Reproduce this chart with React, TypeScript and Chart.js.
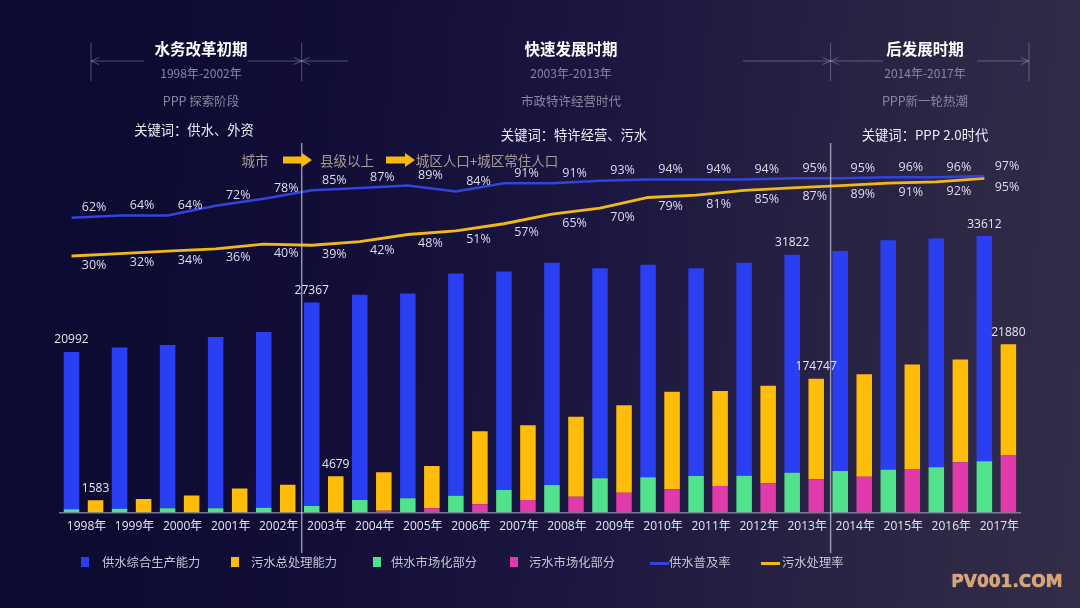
import React, { useEffect, useRef } from 'react';
import { Chart, registerables } from 'chart.js';

Chart.register(...registerables);

// ---------- data ----------
const years = ['1998年', '1999年', '2000年', '2001年', '2002年', '2003年', '2004年', '2005年', '2006年', '2007年',
  '2008年', '2009年', '2010年', '2011年', '2012年', '2013年', '2014年', '2015年', '2016年', '2017年'];

// 供水综合生产能力
const supplyCapacity = [20992, 21590, 21900, 22950, 23600, 27470, 28480, 28640, 31260, 31520,
  32640, 31930, 32390, 31930, 32640, 33710, 34200, 35580, 35830, 36140];
// 供水市场化部分
const supplyMarket = [430, 510, 560, 560, 640, 860, 1650, 1870, 2210, 2950,
  3610, 4480, 4610, 4780, 4820, 5210, 5440, 5610, 5920, 6700];
// 污水总处理能力
const sewageCapacity = [1620, 1780, 2240, 3140, 3650, 4760, 5270, 6090, 10640, 11400,
  12520, 14040, 15810, 15900, 16570, 17490, 18090, 19360, 20020, 22000];
// 污水市场化部分
const sewageMarket = [0, 0, 0, 0, 0, 0, 250, 560, 1080, 1650,
  2080, 2600, 3050, 3480, 3830, 4350, 4690, 5700, 6570, 7530];
// 供水普及率 (%)
const coverageRate = [62, 64, 64, 72, 78, 85, 87, 89, 84, 91, 91, 93, 94, 94, 94, 95, 95, 96, 96, 97];
// 污水处理率 (%)
const treatmentRate = [30, 32, 34, 36, 40, 39, 42, 48, 51, 57, 65, 70, 79, 81, 85, 87, 89, 91, 92, 95];

// printed value annotations [year index, text]
const supplyValueLabels: [number, string][] = [[0, '20992'], [5, '27367'], [15, '31822'], [19, '33612']];
const sewageValueLabels: [number, string][] = [[0, '1583'], [5, '4679'], [15, '174747'], [19, '21880']];

const seriesNames = ['供水综合生产能力', '污水总处理能力', '供水市场化部分', '污水市场化部分', '供水普及率', '污水处理率'];

// ---------- styles ----------
const C_SUPPLY = '#2b3ff2';
const C_SEWAGE = '#ffbd0a';
const C_SUPPLY_MKT = '#50e38b';
const C_SEWAGE_MKT = '#e03aab';
const C_COVER = '#3243de';
const C_TREAT = '#f2b817';
const FONT = '"Open Sans", "Noto Sans CJK SC", sans-serif';
const CJK = '"Noto Sans CJK SC", "Noto Sans", sans-serif';

const valueLabelPlugin = {
  id: 'valueLabels',
  afterDatasetsDraw(chart: any) {
    const ctx = chart.ctx;
    ctx.save();
    ctx.textAlign = 'center';
    ctx.textBaseline = 'middle';
    ctx.fillStyle = '#e6e6f2';
    ctx.font = `12px ${FONT}`;
    const blue = chart.getDatasetMeta(1);
    const yellow = chart.getDatasetMeta(3);
    supplyValueLabels.forEach(([i, t]) => {
      const el = blue.data[i];
      ctx.fillText(t, el.x, el.y - 12);
    });
    sewageValueLabels.forEach(([i, t]) => {
      const el = yellow.data[i];
      ctx.fillText(t, el.x, el.y - 12);
    });
    const xl = chart.scales.xl;
    const y2 = chart.scales.y2;
    ctx.font = `12.5px ${FONT}`;
    ctx.fillStyle = '#dcdcec';
    coverageRate.forEach((v, i) => {
      ctx.fillText(v + '%', xl.getPixelForValue(i + 0.22), y2.getPixelForValue(v) - 10);
    });
    treatmentRate.forEach((v, i) => {
      ctx.fillText(v + '%', xl.getPixelForValue(i + 0.22), y2.getPixelForValue(v) + 9);
    });
    ctx.restore();
  },
};

const Txt = ({ x, y, size, color, weight, children }: any) => (
  <div style={{
    position: 'absolute', left: x, top: y, transform: 'translate(-50%, -50%)', fontSize: size,
    color, fontWeight: weight || 400, whiteSpace: 'nowrap', fontFamily: CJK, lineHeight: 1,
  }}>{children}</div>
);

const sections = [
  { cx: 201, title: '水务改革初期', range: '1998年-2002年', phase: 'PPP 探索阶段', kw: '关键词：供水、外资', kwx: 194, kwy: 130 },
  { cx: 571, title: '快速发展时期', range: '2003年-2013年', phase: '市政特许经营时代', kw: '关键词：特许经营、污水', kwx: 574, kwy: 135 },
  { cx: 925, title: '后发展时期', range: '2014年-2017年', phase: 'PPP新一轮热潮', kw: '关键词：PPP 2.0时代', kwx: 925, kwy: 135 },
];

const legendItems = [
  { left: 81, kind: 'rect', color: C_SUPPLY, textLeft: 102 },
  { left: 231, kind: 'rect', color: C_SEWAGE, textLeft: 251 },
  { left: 373, kind: 'rect', color: C_SUPPLY_MKT, textLeft: 391 },
  { left: 510, kind: 'rect', color: C_SEWAGE_MKT, textLeft: 529 },
  { left: 650, kind: 'line', color: C_COVER, textLeft: 669 },
  { left: 761, kind: 'line', color: C_TREAT, textLeft: 782 },
];

function Arrow({ x }: { x: number }) {
  const y = 160;
  const pts = `${x},${y - 3.5} ${x + 19},${y - 3.5} ${x + 19},${y - 7} ${x + 29},${y} ${x + 19},${y + 7} ${x + 19},${y + 3.5} ${x},${y + 3.5}`;
  return <polygon points={pts} fill="#f7b90a" />;
}

function Overlay() {
  const dim = 'rgba(165,165,200,0.45)';
  const div = 'rgba(200,200,225,0.7)';
  const hy = 61;
  const head = (tx: number, dir: number) => (
    <g key={`${tx}-${dir}`}>
      <line x1={tx} y1={hy} x2={tx + dir * 8} y2={hy - 3.5} stroke={dim} strokeWidth={1} />
      <line x1={tx} y1={hy} x2={tx + dir * 8} y2={hy + 3.5} stroke={dim} strokeWidth={1} />
    </g>
  );
  return (
    <svg width={1080} height={608} style={{ position: 'absolute', left: 0, top: 0, pointerEvents: 'none' }}>
      <line x1={91} y1={43} x2={91} y2={81} stroke={dim} />
      <line x1={1029} y1={43} x2={1029} y2={81} stroke={dim} />
      <line x1={301.7} y1={43} x2={301.7} y2={81} stroke={dim} />
      <line x1={830.6} y1={43} x2={830.6} y2={81} stroke={dim} />
      <line x1={301.7} y1={143} x2={301.7} y2={553} stroke={div} strokeWidth={1.5} />
      <line x1={830.6} y1={143} x2={830.6} y2={553} stroke={div} strokeWidth={1.5} />
      {[[91, 144], [248, 302], [302, 348], [743, 830.6], [830.6, 883], [977, 1029]].map(([a, b]) => (
        <line key={a} x1={a} y1={hy} x2={b} y2={hy} stroke={dim} strokeWidth={1} />
      ))}
      {head(91, 1)}
      {head(301.7, -1)}
      {head(301.7, 1)}
      {head(830.6, -1)}
      {head(830.6, 1)}
      {head(1029, -1)}
      <Arrow x={283} />
      <Arrow x={386} />
    </svg>
  );
}

export default function App() {
  const canvasRef = useRef<HTMLCanvasElement | null>(null);

  useEffect(() => {
    if (!canvasRef.current) return;
    const supplyRest = supplyCapacity.map((v, i) => v - supplyMarket[i]);
    const sewageRest = sewageCapacity.map((v, i) => v - sewageMarket[i]);
    const left = (arr: number[]) => arr.map((v, i) => ({ x: i - 0.25, y: v }));
    const right = (arr: number[]) => arr.map((v, i) => ({ x: i + 0.25, y: v }));
    const barCommon = {
      xAxisID: 'xl', yAxisID: 'y', grouped: false, categoryPercentage: 1, barPercentage: 0.646, order: 1, borderWidth: 0,
    };
    const chart = new Chart(canvasRef.current, {
      type: 'bar',
      data: {
        labels: years,
        datasets: [
          { ...barCommon, label: seriesNames[2], data: left(supplyMarket), backgroundColor: C_SUPPLY_MKT, stack: 's' },
          { ...barCommon, label: seriesNames[0], data: left(supplyRest), backgroundColor: C_SUPPLY, stack: 's' },
          { ...barCommon, label: seriesNames[3], data: right(sewageMarket), backgroundColor: C_SEWAGE_MKT, stack: 'w' },
          { ...barCommon, label: seriesNames[1], data: right(sewageRest), backgroundColor: C_SEWAGE, stack: 'w' },
          {
            type: 'line', label: seriesNames[4], xAxisID: 'xl', yAxisID: 'y2', order: 0,
            data: left(coverageRate),
            borderColor: C_COVER, borderWidth: 2.5, pointRadius: 0, tension: 0, fill: false,
          },
          {
            type: 'line', label: seriesNames[5], xAxisID: 'xl', yAxisID: 'y2', order: 0,
            data: left(treatmentRate),
            borderColor: C_TREAT, borderWidth: 2.8, pointRadius: 0, tension: 0, fill: false,
          },
        ] as any,
      },
      options: {
        animation: false,
        responsive: true,
        maintainAspectRatio: false,
        layout: { padding: { left: 59.5, right: 59.6, top: 150, bottom: 0 } },
        plugins: { legend: { display: false }, tooltip: { enabled: false } },
        scales: {
          x: {
            type: 'category', position: 'bottom', offset: true,
            grid: { display: false, drawTicks: false },
            border: { display: true, color: 'rgba(150,150,178,0.75)', width: 1.5 },
            ticks: {
              color: '#e6e6f0', font: { size: 12, family: FONT }, padding: 7, labelOffset: 3,
              maxRotation: 0, autoSkip: false,
            },
            afterFit: (s: any) => { s.height = 95.4; },
          },
          xl: {
            type: 'linear', axis: 'x', position: 'bottom', display: false, offset: false,
            min: -0.5, max: 19.5, grid: { offset: false },
          },
          y: { stacked: true, display: false, min: 0, max: 47390 },
          y2: { type: 'linear', axis: 'y', position: 'right', display: false, min: -184.9, max: 118.76 },
        } as any,
      },
      plugins: [valueLabelPlugin],
    });
    return () => chart.destroy();
  }, []);

  return (
    <div style={{
      position: 'fixed', left: 0, top: 0, width: 1080, height: 608, overflow: 'hidden',
      background: 'linear-gradient(95deg, #0c0a30 0%, #110d37 30%, #1c1740 55%, #2a2444 80%, #342d48 100%)',
    }}>
      <div style={{ position: 'absolute', left: 0, top: 0, width: 1080, height: 608 }}>
        <canvas ref={canvasRef} />
      </div>
      <Overlay />
      {sections.map((s) => (
        <React.Fragment key={s.title}>
          <Txt x={s.cx} y={48.5} size={15.5} color="#ffffff" weight={700}>{s.title}</Txt>
          <Txt x={s.cx} y={72.5} size={12} color="#8a86a2">{s.range}</Txt>
          <Txt x={s.cx} y={100.5} size={12.5} color="#8a86a2">{s.phase}</Txt>
          <Txt x={s.kwx} y={s.kwy} size={13.3} color="#ececf4">{s.kw}</Txt>
        </React.Fragment>
      ))}
      <Txt x={255} y={160.5} size={13.5} color="#a79c94">城市</Txt>
      <Txt x={347} y={160.5} size={13.5} color="#a79c94">县级以上</Txt>
      <Txt x={487} y={160.5} size={13.5} color="#a79c94">城区人口+城区常住人口</Txt>
      {legendItems.map((it, k) => (
        <React.Fragment key={k}>
          {it.kind === 'rect' ? (
            <div style={{ position: 'absolute', left: it.left, top: 557, width: 8, height: 10, background: it.color }} />
          ) : (
            <div style={{ position: 'absolute', left: it.left, top: 562, width: 19, height: 3, background: it.color }} />
          )}
          <div style={{
            position: 'absolute', left: it.textLeft, top: 562, transform: 'translateY(-50%)', fontSize: 12.3,
            color: '#c4c4d4', fontFamily: CJK, whiteSpace: 'nowrap', lineHeight: 1,
          }}>{seriesNames[k]}</div>
        </React.Fragment>
      ))}
      <div style={{
        position: 'absolute', left: 1007, top: 581, transform: 'translate(-50%, -50%)', fontSize: 17,
        fontWeight: 700, fontFamily: '"DejaVu Sans", sans-serif', color: '#dca273', letterSpacing: 0,
        textShadow: '0 0 1px #fff3e0', lineHeight: 1, whiteSpace: 'nowrap',
      }}>PV001.COM</div>
    </div>
  );
}
